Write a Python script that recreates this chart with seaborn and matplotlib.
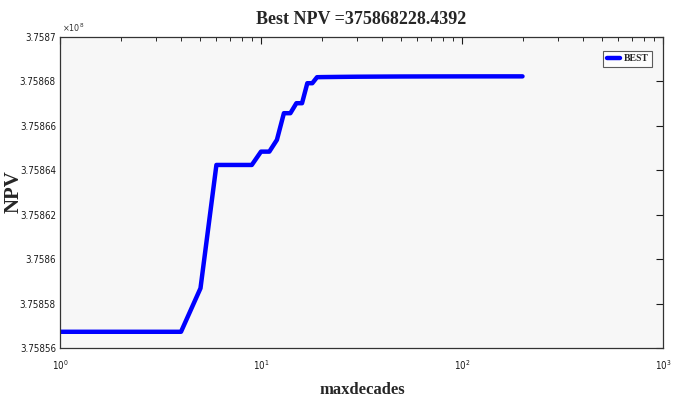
import numpy as np
import pandas as pd
import matplotlib
matplotlib.use("Agg")
import matplotlib.pyplot as plt
import matplotlib.ticker as mticker
import seaborn as sns

# ================= DATA =================
maxdecades = [1, 2, 3, 4, 5, 6, 7, 8, 9, 10, 11, 12, 13, 14, 15, 16, 17, 18, 19,
              20, 25, 30, 40, 50, 70, 100, 150, 200]
best_npv = [375856730, 375856730, 375856730, 375856730, 375858690, 375864240,
            375864240, 375864240, 375864240, 375864840, 375864840, 375865370,
            375866570, 375866570, 375867020, 375867020, 375867920, 375867920,
            375868190, 375868195, 375868205, 375868212, 375868218, 375868222,
            375868225, 375868227, 375868228, 375868228]
best_value = "375868228.4392"
y_ticks = [375856000, 375858000, 375860000, 375862000, 375864000,
           375866000, 375868000, 375870000]

df = pd.DataFrame({"maxdecades": maxdecades, "NPV": best_npv, "series": "BEST"})

# ================= STYLE =================
sns.set_style("white")
plt.rcParams["font.family"] = ["DejaVu Sans"]
plt.rcParams["font.stretch"] = "condensed"
serif = ["Liberation Serif", "DejaVu Serif"]

fig = plt.figure(figsize=(6.8, 4.04), dpi=100)
ax = fig.add_axes([60 / 680, 56 / 404, 603 / 680, 311 / 404])
ax.set_facecolor("#f7f7f7")

sns.lineplot(data=df, x="maxdecades", y="NPV", hue="series",
             palette=["#0000ff"], linewidth=3.2, ax=ax)

ax.set_xscale("log")
ax.set_xlim(1, 1000)
ax.set_ylim(375856000, 375870000)
ax.set_yticks(y_ticks)
ax.yaxis.set_major_formatter(
    mticker.FuncFormatter(lambda v, p: "{:g}".format(round(v / 1e8, 6))))
ax.xaxis.set_major_locator(mticker.LogLocator(base=10, numticks=10))
ax.xaxis.set_minor_locator(mticker.LogLocator(base=10, subs=np.arange(2, 10), numticks=20))
ax.xaxis.set_minor_formatter(mticker.NullFormatter())

ax.tick_params(axis="both", which="major", direction="in", length=5, width=0.8,
               labelsize=7, colors="#1a1a1a", top=True, right=True)
ax.tick_params(axis="both", which="minor", direction="in", length=3, width=0.7,
               top=True, right=True)
ax.tick_params(axis="x", which="major", pad=7)
ax.tick_params(axis="y", which="major", pad=3)
for s in ax.spines.values():
    s.set_color("#333333")
    s.set_linewidth(0.9)

ax.set_xlabel("")
ax.set_ylabel("")
fig.text(62 / 680, 1 - 32 / 404, r"$\times 10^{8}$", fontsize=6.5, color="#333333",
         va="baseline", ha="left")

fig.text(361 / 680, 1 - 19 / 404, "Best NPV =" + best_value, ha="center", va="center",
         fontsize=13, fontweight="bold", family=serif)
fig.text(362 / 680, 1 - 390 / 404, "maxdecades", ha="center", va="center",
         fontsize=12, fontweight="bold", family=serif)
fig.text(14 / 680, 1 - 192 / 404, "NPV", ha="center", va="center", rotation=90,
         fontsize=15, fontweight="bold", family=serif)

leg = ax.legend(loc="upper right", bbox_to_anchor=(0.99, 0.972), frameon=True,
                fancybox=False, handlelength=1.4, handletextpad=0.3,
                borderpad=0.4, prop={"family": serif, "weight": "bold", "size": 7})
leg.get_frame().set_edgecolor("#333333")
leg.get_frame().set_facecolor("white")
leg.get_frame().set_linewidth(0.8)

fig.savefig("out.png", dpi=100)
